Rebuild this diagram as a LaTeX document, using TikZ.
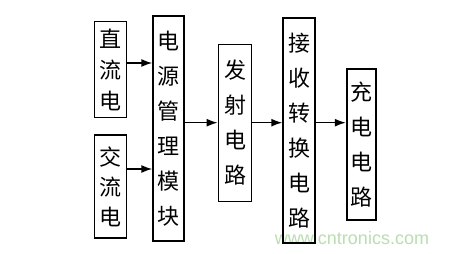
\documentclass[tikz,border=0pt]{standalone}
\usepackage{fontspec}
\newfontfamily\cjk{Noto Sans CJK SC}
\newfontfamily\wmfont{Liberation Sans}
\usetikzlibrary{arrows.meta}
\definecolor{wm}{RGB}{185,222,175}
\tikzset{
  blk/.style={draw=black, line width=1.8pt, rectangle, inner sep=0pt, align=center,
    font=\cjk\fontsize{22}{35}\selectfont},
  arr/.style={line width=1.5pt, -{Latex[length=11pt,width=8pt]}}
}
\begin{document}
\begin{tikzpicture}[x=1pt,y=-1pt]
\useasboundingbox[fill=white] (0,0) rectangle (453,254);
\node[font=\wmfont\fontsize{18}{18}\selectfont, text=wm] (wmk) at (352,238) {www.cntronics.com};
\node[blk, minimum width=32pt, minimum height=96pt, font=\cjk\fontsize{22}{31}\selectfont] (dc) at (110.5,69.5) {直\\流\\电};
\node[blk, minimum width=32pt, minimum height=103pt, font=\cjk\fontsize{22}{30}\selectfont] (ac) at (110.5,186.5) {交\\流\\电};
\node[blk, minimum width=31pt, minimum height=225pt] (pm) at (168.7,128.3) {电\\源\\管\\理\\模\\块};
\node[blk, minimum width=33pt, minimum height=157pt] (tx) at (235,123) {发\\射\\电\\路};
\node[blk, minimum width=32pt, minimum height=225pt] (rx) at (299.2,130.8) {接\\收\\转\\换\\电\\路};
\node[blk, minimum width=29pt, minimum height=151pt] (ch) at (361.2,144.7) {充\\电\\电\\路};
\draw[arr] (dc.east |- 0,63) -- (pm.west |- 0,63);
\draw[arr] (ac.east |- 0,169) -- (pm.west |- 0,169);
\draw[arr] (pm.east |- 0,122.7) -- (tx.west |- 0,122.7);
\draw[arr] (tx.east |- 0,122.7) -- (rx.west |- 0,122.7);
\draw[arr] (rx.east |- 0,122.7) -- (ch.west |- 0,122.7);
\end{tikzpicture}
\end{document}
